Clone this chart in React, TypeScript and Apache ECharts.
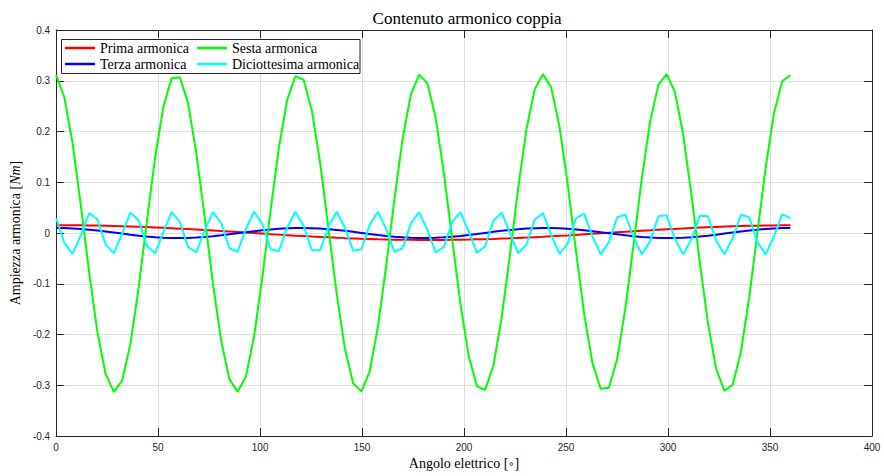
import React, { useEffect, useRef } from "react";
import * as echarts from "echarts";

// Electrical angle of each sample [deg]
const angles = [
  0, 4.04, 8.09, 12.13, 16.18, 20.22, 24.27, 28.31, 32.36, 36.4,
  40.45, 44.49, 48.54, 52.58, 56.63, 60.67, 64.72, 68.76, 72.81, 76.85,
  80.9, 84.94, 88.99, 93.03, 97.08, 101.12, 105.17, 109.21, 113.26, 117.3,
  121.35, 125.39, 129.44, 133.48, 137.53, 141.57, 145.62, 149.66, 153.71, 157.75,
  161.8, 165.84, 169.89, 173.93, 177.98, 182.02, 186.07, 190.11, 194.16, 198.2,
  202.25, 206.29, 210.34, 214.38, 218.43, 222.47, 226.52, 230.56, 234.61, 238.65,
  242.7, 246.74, 250.79, 254.83, 258.88, 262.92, 266.97, 271.01, 275.06, 279.1,
  283.15, 287.19, 291.24, 295.28, 299.33, 303.37, 307.42, 311.46, 315.51, 319.55,
  323.6, 327.64, 331.69, 335.73, 339.78, 343.82, 347.87, 351.91, 355.96, 360,
];

const prima = [
  0.0153, 0.0153, 0.0152, 0.0151, 0.0149, 0.0146, 0.0143, 0.0139, 0.0134, 0.0129,
  0.0123, 0.0117, 0.011, 0.0102, 0.0094, 0.0086, 0.0077, 0.0068, 0.0058, 0.0048,
  0.0038, 0.0028, 0.0018, 0.0008, -0.0002, -0.0012, -0.0023, -0.0032, -0.0042, -0.0052,
  -0.0061, -0.007, -0.0078, -0.0086, -0.0094, -0.0101, -0.0107, -0.0113, -0.0118, -0.0123,
  -0.0127, -0.0131, -0.0133, -0.0135, -0.0136, -0.0137, -0.0137, -0.0136, -0.0134, -0.0132,
  -0.0129, -0.0125, -0.0121, -0.0116, -0.011, -0.0104, -0.0097, -0.009, -0.0082, -0.0074,
  -0.0065, -0.0056, -0.0047, -0.0037, -0.0027, -0.0017, -0.0007, 0.0003, 0.0013, 0.0023,
  0.0034, 0.0044, 0.0053, 0.0063, 0.0072, 0.0081, 0.009, 0.0098, 0.0106, 0.0113,
  0.012, 0.0126, 0.0132, 0.0137, 0.0141, 0.0145, 0.0148, 0.015, 0.0152, 0.0153,
];

const terza = [
  0.01, 0.0098, 0.0091, 0.008, 0.0066, 0.0049, 0.003, 0.0009, -0.0012, -0.0033,
  -0.0052, -0.0069, -0.0083, -0.0093, -0.0098, -0.01, -0.0097, -0.009, -0.0078, -0.0064,
  -0.0046, -0.0026, -0.0005, 0.0016, 0.0036, 0.0055, 0.0071, 0.0084, 0.0094, 0.0099,
  0.01, 0.0096, 0.0088, 0.0076, 0.0061, 0.0043, 0.0023, 0.0002, -0.0019, -0.0039,
  -0.0058, -0.0074, -0.0086, -0.0095, -0.0099, -0.0099, -0.0095, -0.0086, -0.0074, -0.0058,
  -0.0039, -0.0019, 0.0002, 0.0023, 0.0043, 0.0061, 0.0076, 0.0088, 0.0096, 0.01,
  0.0099, 0.0094, 0.0084, 0.0071, 0.0055, 0.0036, 0.0016, -0.0005, -0.0026, -0.0046,
  -0.0064, -0.0078, -0.009, -0.0097, -0.01, -0.0098, -0.0093, -0.0083, -0.0069, -0.0052,
  -0.0033, -0.0012, 0.0009, 0.003, 0.0049, 0.0066, 0.008, 0.0091, 0.0098, 0.01,
];

const sesta = [
  0.311, 0.267, 0.176, 0.054, -0.077, -0.195, -0.278, -0.313, -0.291, -0.219,
  -0.108, 0.023, 0.149, 0.249, 0.305, 0.307, 0.255, 0.157, 0.032, -0.098,
  -0.212, -0.288, -0.313, -0.283, -0.203, -0.087, 0.045, 0.168, 0.262, 0.309,
  0.302, 0.241, 0.138, 0.01, -0.119, -0.228, -0.296, -0.312, -0.273, -0.185,
  -0.065, 0.066, 0.186, 0.273, 0.312, 0.295, 0.227, 0.118, -0.012, -0.139,
  -0.242, -0.302, -0.309, -0.261, -0.167, -0.043, 0.088, 0.204, 0.283, 0.313,
  0.287, 0.211, 0.097, -0.034, -0.159, -0.256, -0.307, -0.305, -0.248, -0.148,
  -0.021, 0.109, 0.22, 0.292, 0.313, 0.278, 0.194, 0.076, -0.056, -0.177,
  -0.268, -0.311, -0.299, -0.234, -0.128, 0.001, 0.129, 0.235, 0.299, 0.311,
];

const diciottesima = [
  0.029, -0.02, -0.041, -0.004, 0.039, 0.027, -0.023, -0.04, -0.001, 0.04,
  0.025, -0.025, -0.04, 0.002, 0.041, 0.022, -0.028, -0.038, 0.005, 0.041,
  0.02, -0.03, -0.037, 0.008, 0.042, 0.017, -0.032, -0.036, 0.011, 0.042,
  0.014, -0.034, -0.034, 0.013, 0.042, 0.011, -0.035, -0.032, 0.016, 0.042,
  0.008, -0.037, -0.03, 0.019, 0.041, 0.006, -0.038, -0.028, 0.022, 0.041,
  0.003, -0.039, -0.026, 0.024, 0.04, 0.0, -0.04, -0.023, 0.026, 0.039,
  -0.003, -0.041, -0.021, 0.029, 0.038, -0.006, -0.042, -0.018, 0.031, 0.036,
  -0.009, -0.042, -0.016, 0.033, 0.035, -0.012, -0.042, -0.013, 0.034, 0.033,
  -0.015, -0.042, -0.01, 0.036, 0.031, -0.018, -0.042, -0.007, 0.037, 0.029,
];

const seriesNames = ["Prima armonica", "Terza armonica", "Sesta armonica", "Diciottesima armonica"];
const seriesColors = ["#ff0000", "#0000ff", "#00ff00", "#00ffff"];
const seriesValues = [prima, terza, sesta, diciottesima];

const titleText = "Contenuto armonico coppia";
const xName = "Angolo elettrico [{d|∘}]";
const yName = "Ampiezza armonica [{i|Nm}]";

export default function App() {
  const ref = useRef<HTMLDivElement>(null);

  useEffect(() => {
    if (!ref.current) return;
    const chart = echarts.init(ref.current, null, { renderer: "svg" });
    const axisColor = "#262626";
    const gridColor = "#dfdfdf";
    const serif = "'Liberation Serif', 'Times New Roman', serif";
    const sans = "'Liberation Sans', Arial, Helvetica, sans-serif";

    const pair = (vals: number[]) => angles.map((a, i) => [a, vals[i]]);

    const legendCommon = {
      orient: "vertical" as const,
      top: 40,
      padding: 0,
      itemWidth: 30,
      itemHeight: 2.5,
      itemGap: 0,
      icon: "rect",
      selectedMode: false,
      z: 10,
      textStyle: { fontFamily: serif, fontSize: 14, color: "#000", lineHeight: 16, padding: [0, 0, 0, 0] },
    };

    const boxAxis = {
      axisLine: { show: true, onZero: false, lineStyle: { color: axisColor, width: 1 } },
      axisTick: { show: true, inside: true, length: 8, lineStyle: { color: axisColor, width: 1 } },
    };

    chart.setOption({
      animation: false,
      backgroundColor: "#ffffff",
      title: {
        text: titleText,
        left: 462,
        top: 5,
        textAlign: "center",
        textStyle: { fontFamily: serif, fontSize: 17, fontWeight: "normal", color: "#000" },
      },
      grid: { left: 52, right: 12, top: 30, bottom: 40, containLabel: false },
      legend: [
        { ...legendCommon, left: 65, data: [seriesNames[0], seriesNames[1]] },
        { ...legendCommon, left: 197, data: [seriesNames[2], seriesNames[3]] },
      ],
      graphic: [
        {
          type: "rect",
          z: 9,
          shape: { x: 61.5, y: 39.5, width: 298.5, height: 34 },
          style: { fill: "#ffffff", stroke: axisColor, lineWidth: 1 },
        },
      ],
      xAxis: [
        {
          type: "value",
          min: 0,
          max: 400,
          interval: 50,
          position: "bottom",
          ...boxAxis,
          axisLabel: { color: axisColor, fontSize: 10, fontFamily: sans, margin: 6 },
          splitLine: { show: true, lineStyle: { color: gridColor, width: 1 } },
          name: xName,
          nameLocation: "middle",
          nameGap: 20,
          nameTextStyle: {
            fontFamily: serif,
            fontSize: 14,
            color: "#000",
            rich: { d: { fontFamily: "'DejaVu Sans', sans-serif", fontSize: 10, color: "#000" } },
          },
        },
        {
          type: "value",
          min: 0,
          max: 400,
          interval: 50,
          position: "top",
          ...boxAxis,
          axisLabel: { show: false },
          splitLine: { show: false },
        },
      ],
      yAxis: [
        {
          type: "value",
          min: -0.4,
          max: 0.4,
          interval: 0.1,
          position: "left",
          ...boxAxis,
          axisLabel: { color: axisColor, fontSize: 10, fontFamily: sans, margin: 6 },
          splitLine: { show: true, lineStyle: { color: gridColor, width: 1 } },
          name: yName,
          nameLocation: "middle",
          nameGap: 26,
          nameTextStyle: {
            fontFamily: serif,
            fontSize: 14,
            color: "#000",
            rich: { i: { fontFamily: serif, fontSize: 14, fontStyle: "italic", color: "#000" } },
          },
        },
        {
          type: "value",
          min: -0.4,
          max: 0.4,
          interval: 0.1,
          position: "right",
          ...boxAxis,
          axisLabel: { show: false },
          splitLine: { show: false },
        },
      ],
      series: seriesNames.map((name, i) => ({
        name,
        type: "line",
        xAxisIndex: 0,
        yAxisIndex: 0,
        data: pair(seriesValues[i]),
        showSymbol: false,
        symbol: "none",
        z: 2,
        lineStyle: { color: seriesColors[i], width: 2 },
        itemStyle: { color: seriesColors[i] },
      })),
    });

    return () => chart.dispose();
  }, []);

  return (
    <div
      ref={ref}
      style={{ position: "fixed", left: 0, top: 0, width: 884, height: 476, background: "#fff" }}
    />
  );
}
